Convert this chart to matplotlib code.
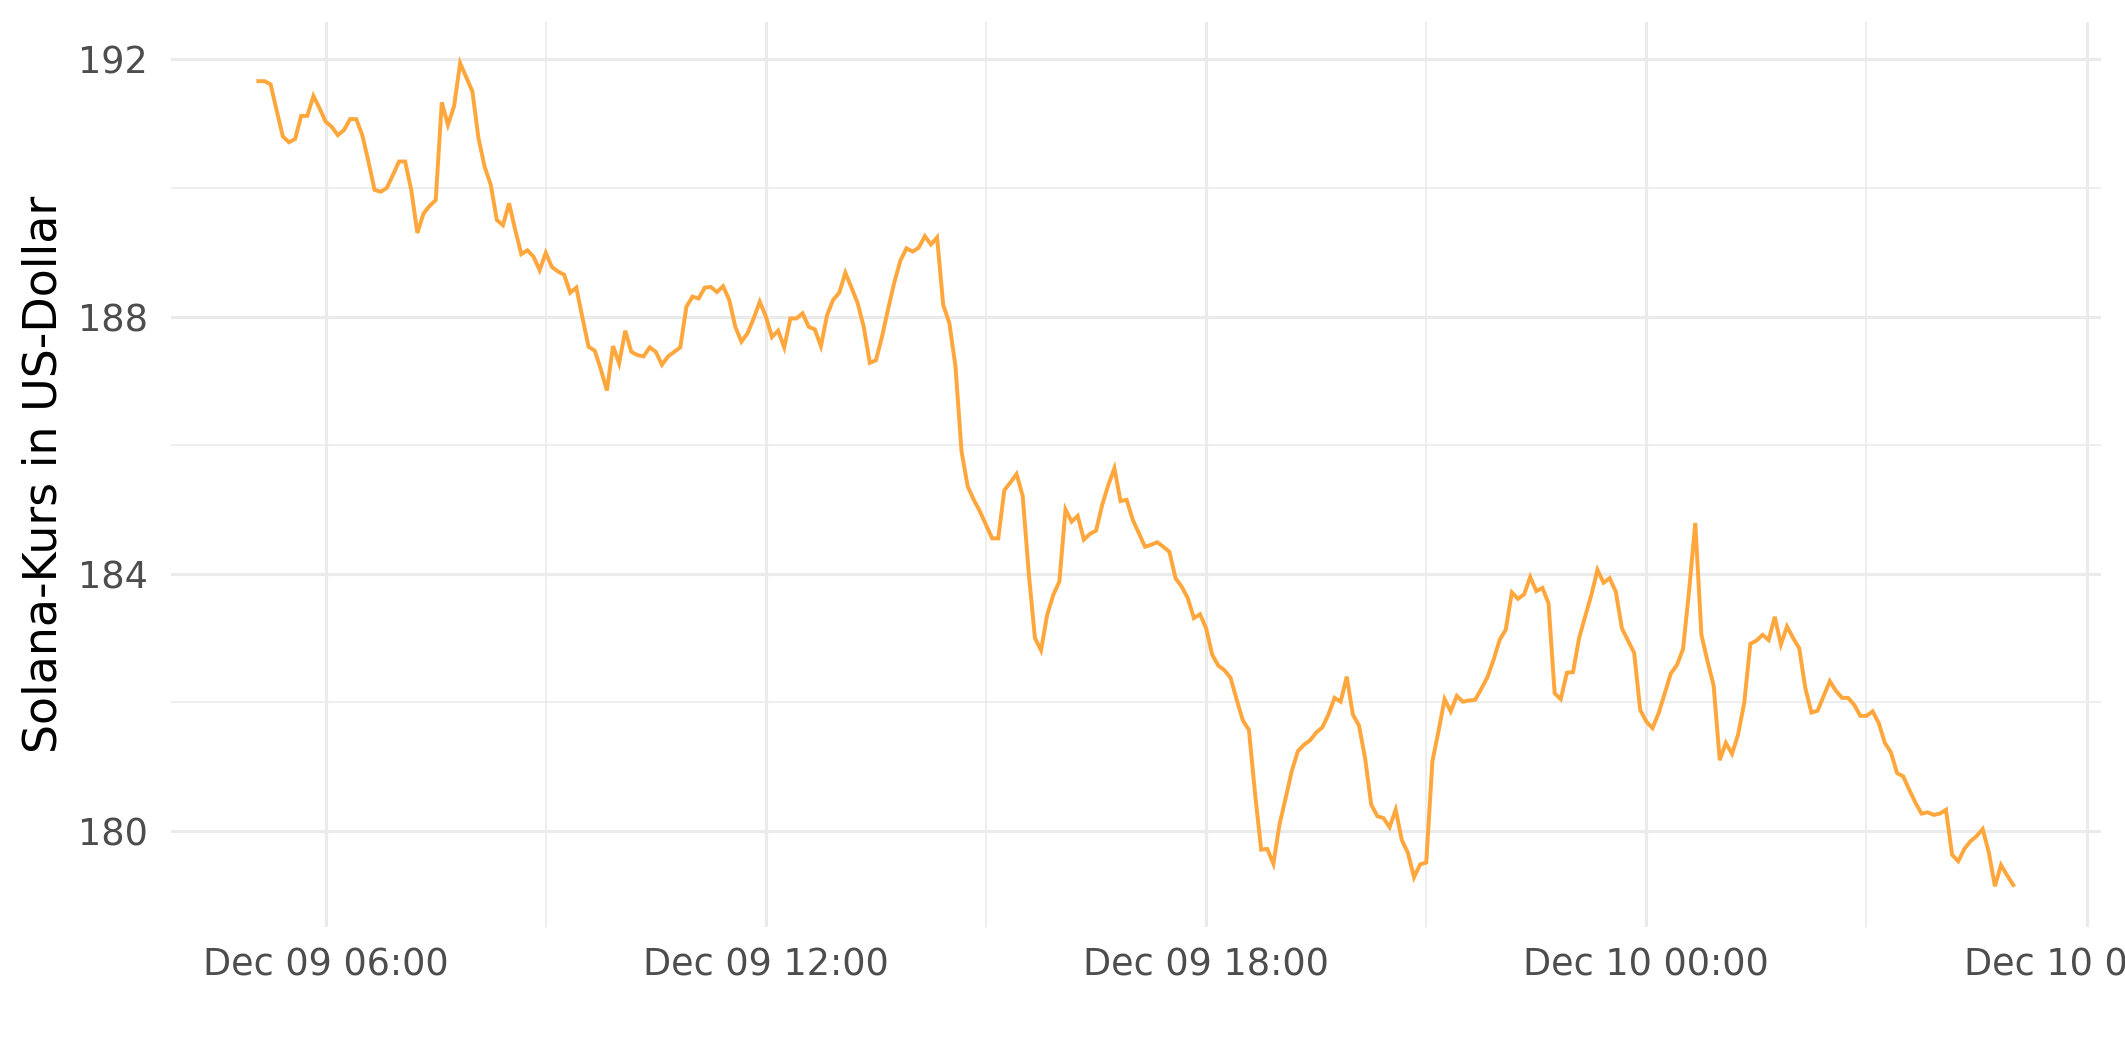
import matplotlib

matplotlib.use("Agg")
import matplotlib.dates as mdates
import matplotlib.pyplot as plt
import pandas as pd

# 5-minute Solana price samples, Dec 09 05:05 -> Dec 10 05:00 (one row per hour)
START = "2024-12-09 05:05"
STEP = "5min"
PRICES = [
    191.66, 191.66, 191.61, 191.20, 190.80, 190.71, 190.76, 191.12, 191.12, 191.43, 191.24, 191.03,
    190.95, 190.82, 190.90, 191.07, 191.07, 190.82, 190.41, 189.97, 189.94, 190.00, 190.20, 190.41,
    190.41, 189.97, 189.30, 189.60, 189.72, 189.81, 191.33, 190.98, 191.27, 191.94, 191.72, 191.50,
    190.77, 190.33, 190.05, 189.50, 189.42, 189.76, 189.35, 188.97, 189.03, 188.93, 188.72, 188.99,
    188.77, 188.70, 188.65, 188.37, 188.45, 187.98, 187.53, 187.47, 187.18, 186.85, 187.54, 187.27,
    187.78, 187.45, 187.40, 187.38, 187.52, 187.45, 187.25, 187.38, 187.45, 187.52, 188.15, 188.31,
    188.28, 188.45, 188.46, 188.38, 188.47, 188.26, 187.84, 187.61, 187.74, 187.97, 188.23, 188.00,
    187.68, 187.78, 187.52, 187.97, 187.97, 188.05, 187.84, 187.80, 187.54, 188.02, 188.26, 188.37,
    188.68, 188.45, 188.21, 187.84, 187.28, 187.32, 187.69, 188.12, 188.53, 188.87, 189.06, 189.01,
    189.07, 189.25, 189.12, 189.23, 188.18, 187.90, 187.23, 185.90, 185.36, 185.15, 184.97, 184.76,
    184.55, 184.55, 185.30, 185.42, 185.55, 185.21, 184.00, 183.00, 182.81, 183.36, 183.67, 183.88,
    185.00, 184.81, 184.90, 184.53, 184.62, 184.67, 185.07, 185.38, 185.64, 185.13, 185.15, 184.84,
    184.63, 184.42, 184.45, 184.49, 184.42, 184.34, 183.93, 183.80, 183.62, 183.31, 183.37, 183.15,
    182.74, 182.57, 182.50, 182.38, 182.04, 181.72, 181.57, 180.58, 179.71, 179.72, 179.49, 180.10,
    180.51, 180.93, 181.24, 181.34, 181.41, 181.53, 181.61, 181.81, 182.07, 182.01, 182.40, 181.81,
    181.64, 181.13, 180.41, 180.23, 180.20, 180.06, 180.33, 179.86, 179.66, 179.28, 179.48, 179.51,
    181.08, 181.55, 182.05, 181.86, 182.10, 182.01, 182.03, 182.04, 182.21, 182.39, 182.66, 182.97,
    183.13, 183.71, 183.61, 183.68, 183.95, 183.73, 183.78, 183.54, 182.14, 182.05, 182.46, 182.47,
    183.00, 183.34, 183.67, 184.06, 183.86, 183.93, 183.72, 183.15, 182.96, 182.77, 181.88, 181.70,
    181.60, 181.83, 182.14, 182.45, 182.58, 182.83, 183.75, 184.79, 183.05, 182.64, 182.26, 181.10,
    181.37, 181.20, 181.50, 181.99, 182.91, 182.96, 183.05, 182.97, 183.33, 182.90, 183.18, 183.00,
    182.84, 182.22, 181.84, 181.87, 182.10, 182.33, 182.18, 182.07, 182.07, 181.96, 181.79, 181.79,
    181.86, 181.68, 181.37, 181.22, 180.90, 180.85, 180.64, 180.44, 180.27, 180.29, 180.25, 180.27,
    180.33, 179.63, 179.53, 179.72, 179.84, 179.92, 180.03, 179.67, 179.14, 179.47, 179.31, 179.16,
]

Y_MAJOR = [180, 184, 188, 192]
Y_MINOR = [182, 186, 190]
Y_LABEL = "Solana-Kurs in US-Dollar"

LINE_COLOR = "#FFA73D"
GRID_COLOR = "#EBEBEB"
TEXT_COLOR = "#4D4D4D"


def main() -> None:
    times = pd.date_range(START, periods=len(PRICES), freq=STEP)

    fig = plt.figure(figsize=(2125 / 300, 1062 / 300), dpi=300)
    ax = fig.add_axes([0.0803, 0.1267, 0.9084, 0.8526])

    ax.plot(times, PRICES, color=LINE_COLOR, linewidth=0.95, solid_joinstyle="miter")
    ax.margins(x=0.05, y=0.05)

    ax.xaxis.set_major_locator(mdates.HourLocator(byhour=[0, 6, 12, 18]))
    ax.xaxis.set_minor_locator(mdates.HourLocator(byhour=[3, 9, 15, 21]))
    ax.xaxis.set_major_formatter(mdates.DateFormatter("%b %d %H:%M"))
    ax.set_yticks(Y_MAJOR)
    ax.set_yticks(Y_MINOR, minor=True)

    ax.grid(True, which="major", color=GRID_COLOR, linewidth=0.75)
    ax.grid(True, which="minor", color=GRID_COLOR, linewidth=0.4)
    ax.set_axisbelow(True)

    for spine in ax.spines.values():
        spine.set_visible(False)
    ax.tick_params(which="both", length=0)
    ax.tick_params(axis="x", labelsize=8.8, labelcolor=TEXT_COLOR, pad=4.5)
    ax.tick_params(axis="y", labelsize=8.8, labelcolor=TEXT_COLOR, pad=5.5)

    ax.set_ylabel(Y_LABEL, fontsize=11, color="black", labelpad=2.8)

    fig.savefig("out.png", dpi=300)


if __name__ == "__main__":
    main()
